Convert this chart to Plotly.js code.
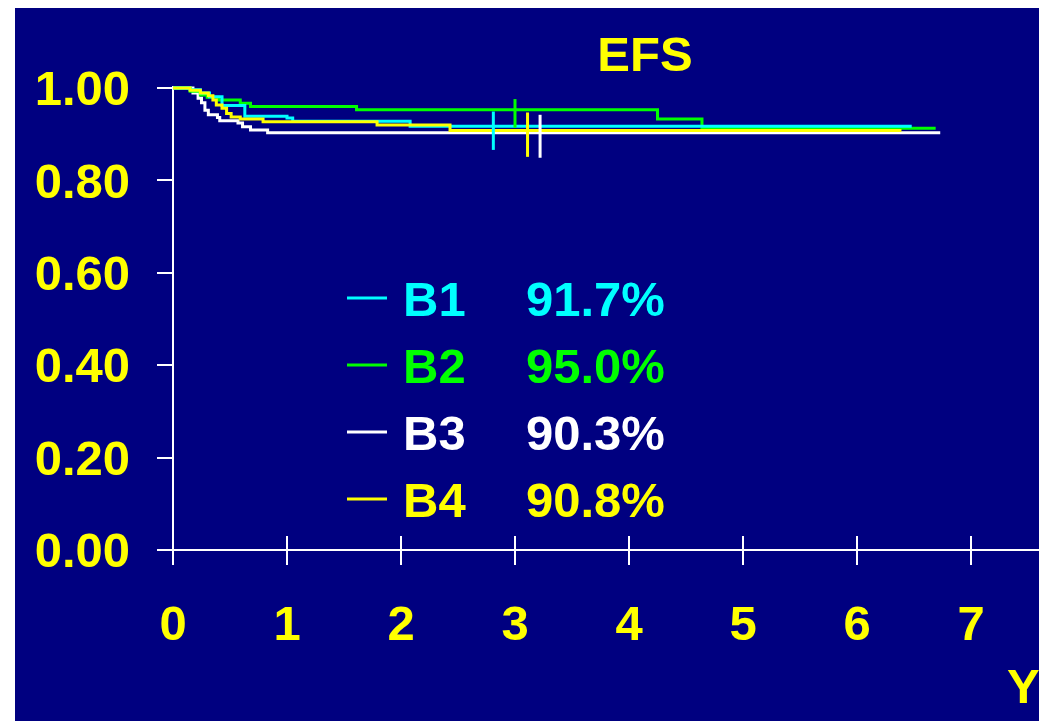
<!DOCTYPE html>
<html>
<head>
<meta charset="utf-8">
<script src="https://cdn.plot.ly/plotly-3.0.1.min.js"></script>
<style>
html,body{margin:0;padding:0;background:#ffffff;width:1039px;height:721px;overflow:hidden;}
#chart{position:absolute;left:15px;top:8px;width:1024px;height:713px;}
</style>
</head>
<body>
<div id="chart"></div>
<script>
// ---- data ----
const groupNames = ["B1", "B2", "B3", "B4"];
const groupRates = ["91.7%", "95.0%", "90.3%", "90.8%"];

const timeB1 = [0, 0.15, 0.24, 0.32, 0.43, 0.63, 1.00, 1.05, 2.08, 6.48];
const survB1 = [1.0, 0.996, 0.989, 0.981, 0.962, 0.939, 0.935, 0.928, 0.917, 0.917];

const timeB2 = [0, 0.15, 0.24, 0.30, 0.40, 0.59, 0.68, 1.61, 4.25, 4.64, 6.69];
const survB2 = [1.0, 0.993, 0.985, 0.980, 0.974, 0.967, 0.960, 0.953, 0.933, 0.913, 0.913];

const timeB3 = [0, 0.175, 0.22, 0.25, 0.28, 0.31, 0.39, 0.41, 0.57, 0.61, 0.68, 0.83, 6.73];
const survB3 = [1.0, 0.989, 0.978, 0.968, 0.952, 0.942, 0.936, 0.929, 0.924, 0.916, 0.909, 0.903, 0.903];

const timeB4 = [0, 0.15, 0.24, 0.31, 0.35, 0.38, 0.43, 0.47, 0.51, 0.59, 0.79, 1.79, 2.43, 6.39];
const survB4 = [1.0, 0.995, 0.989, 0.983, 0.974, 0.963, 0.956, 0.945, 0.937, 0.933, 0.927, 0.920, 0.908, 0.908];

// vertical marker bars near 3 years (order B1, B2, B3, B4)
const barTime = [2.81, 3.00, 3.22, 3.11];
const barLow  = [0.866, 0.914, 0.849, 0.851];
const barHigh = [0.949, 0.976, 0.942, 0.947];

const xTickVals = [0, 1, 2, 3, 4, 5, 6, 7];
const xTickText = ["0", "1", "2", "3", "4", "5", "6", "7"];
const yTickVals = [0, 0.2, 0.4, 0.6, 0.8, 1.0];
const yTickText = ["0.00", "0.20", "0.40", "0.60", "0.80", "1.00"];

// ---- styling ----
const colors = ["#00FFFF", "#00FF00", "#FFFFFF", "#FFFF00"];
const NAVY = "#000080";
const FONT = "Liberation Sans, Arial, sans-serif";
const FS = 49;

// plot-area geometry (page pixels)
const PL = 157, PR = 1039, PT = 86, PB = 565;
const OX = 15, OY = 8;
const px = x => (x - PL) / (PR - PL);
const py = y => (PB - y) / (PB - PT);

const series = [
  {t: timeB3, s: survB3, i: 2},
  {t: timeB2, s: survB2, i: 1},
  {t: timeB1, s: survB1, i: 0},
  {t: timeB4, s: survB4, i: 3}
];

const traces = series.map(d => ({
  x: d.t, y: d.s, type: "scatter", mode: "lines",
  line: {shape: "hv", color: colors[d.i], width: 3},
  name: groupNames[d.i], showlegend: false, hoverinfo: "skip"
}));

barTime.forEach((t, i) => {
  traces.push({
    x: [t, t], y: [barLow[i], barHigh[i]], type: "scatter", mode: "lines",
    line: {color: colors[i], width: 3}, showlegend: false, hoverinfo: "skip"
  });
});

const annotations = [];
const shapes = [];
const rowY = [299, 366, 433, 500];
groupNames.forEach((n, i) => {
  annotations.push({
    xref: "paper", yref: "paper", x: px(401), y: py(rowY[i]),
    xanchor: "left", yanchor: "middle", showarrow: false, text: n,
    font: {family: FONT, size: FS, color: colors[i], weight: "bold"}
  });
  annotations.push({
    xref: "paper", yref: "paper", x: px(524), y: py(rowY[i]),
    xanchor: "left", yanchor: "middle", showarrow: false, text: groupRates[i],
    font: {family: FONT, size: FS, color: colors[i], weight: "bold"}
  });
  shapes.push({
    type: "line", xref: "paper", yref: "paper",
    x0: px(347), x1: px(387), y0: py(rowY[i] - 1), y1: py(rowY[i] - 1),
    line: {color: colors[i], width: 3}
  });
});
annotations.push({
  xref: "paper", yref: "paper", x: px(1005), y: py(686),
  xanchor: "left", yanchor: "middle", showarrow: false, text: "Y",
  font: {family: FONT, size: FS, color: "#FFFF00", weight: "bold"}
});

const layout = {
  width: 1024, height: 713,
  paper_bgcolor: NAVY, plot_bgcolor: NAVY,
  margin: {l: PL - OX, r: 0, t: PT - OY, b: (OY + 713) - PB},
  title: {
    text: "EFS", x: (645 - OX) / 1024, xanchor: "center",
    y: 1 - (54 - OY) / 713, yanchor: "middle",
    font: {family: FONT, size: FS, color: "#FFFF00", weight: "bold"}
  },
  xaxis: {
    range: [-(173 - PL) / 114, (PR - 173) / 114],
    tickvals: xTickVals, ticktext: xTickText,
    ticks: "inside", ticklen: 29, tickwidth: 2, tickcolor: "#FFFFFF",
    showgrid: false, showline: false,
    zeroline: true, zerolinecolor: "#FFFFFF", zerolinewidth: 2.5,
    ticklabelstandoff: 25,
    tickfont: {family: FONT, size: FS, color: "#FFFF00", weight: "bold"},
    fixedrange: true
  },
  yaxis: {
    range: [-(PB - 550) / 462, (550 - PT) / 462],
    tickvals: yTickVals, ticktext: yTickText,
    ticks: "inside", ticklen: 16, tickwidth: 2, tickcolor: "#FFFFFF",
    showgrid: false, showline: false,
    zeroline: true, zerolinecolor: "#FFFFFF", zerolinewidth: 2.5,
    ticklabelstandoff: 26,
    tickfont: {family: FONT, size: FS, color: "#FFFF00", weight: "bold"},
    fixedrange: true
  },
  annotations: annotations,
  shapes: shapes,
  showlegend: false
};

Plotly.newPlot("chart", traces, layout, {staticPlot: true, displayModeBar: false});
</script>
</body>
</html>
